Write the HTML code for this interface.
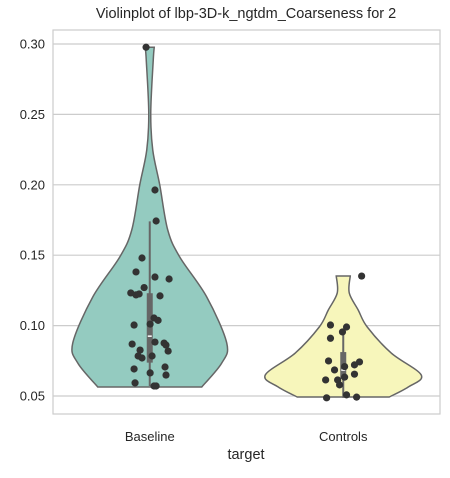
<!DOCTYPE html>
<html><head><meta charset="utf-8"><style>
body{margin:0;background:#fff;}
svg text{font-family:"Liberation Sans",sans-serif;fill:#262626;}
</style></head><body>
<svg id="chart" width="450" height="473" xmlns="http://www.w3.org/2000/svg">
<text x="246" y="18" font-size="14.5" text-anchor="middle">Violinplot of lbp-3D-k_ngtdm_Coarseness for 2</text>
<g id="grid"></g>
<g id="yticks"></g>
<g id="violins"></g>
<g id="points"></g>
<rect x="53" y="30" width="387" height="384" fill="none" stroke="#cccccc" stroke-width="1.2"/>
<g id="xticks"></g>
<text x="246" y="459" font-size="14.5" text-anchor="middle">target</text>
</svg>
<script>
const categories = ["Baseline", "Controls"];
const yTicks = [0.05, 0.10, 0.15, 0.20, 0.25, 0.30];
const yTickLabels = ["0.05", "0.10", "0.15", "0.20", "0.25", "0.30"];
const baselineValues = [0.2977,0.1963,0.1743,0.1480,0.1381,0.1345,0.1331,0.1270,0.1232,0.1218,0.1225,0.1211,0.1054,0.1037,0.1004,0.1011,0.0869,0.0883,0.0876,0.0862,0.0826,0.0819,0.0784,0.0770,0.0784,0.0692,0.0706,0.0664,0.0649,0.0593,0.0571,0.0571];
const baselineJitter = [-0.019,0.027,0.033,-0.040,-0.071,0.027,0.100,-0.029,-0.098,-0.071,-0.055,0.053,0.022,0.043,-0.081,0.002,-0.091,0.027,0.074,0.084,-0.050,0.095,-0.060,-0.040,0.012,-0.081,0.079,0.002,0.084,-0.076,0.022,0.033];
const controlsValues = [0.1352,0.1004,0.0990,0.0955,0.0910,0.0749,0.0742,0.0721,0.0709,0.0685,0.0655,0.0634,0.0614,0.0614,0.0579,0.0508,0.0492,0.0487];
const controlsJitter = [0.095,-0.066,0.017,-0.004,-0.066,-0.076,0.084,0.058,0.007,-0.045,0.058,0.007,-0.091,-0.029,-0.019,0.017,0.069,-0.086];
const baselineDensV = [0.2977,0.2886,0.251,0.2247,0.1999,0.1679,0.1487,0.1203,0.0876,0.0734,0.0564];
const baselineDensW = [4.5,3.5,1,3,10,18,30,57,77,72,52];
const controlsDensV = [0.1352,0.1232,0.111,0.099,0.0805,0.0649,0.0564,0.0493];
const controlsDensW = [7,6,15,24,48,78,65,46];
const baselineBox = [0.0737, 0.0925, 0.1230, 0.1740, 0.0571];
const controlsBox = [0.0620, 0.0684, 0.0812, 0.0960, 0.0487];

const NS = "http://www.w3.org/2000/svg";
const y = v => 396 - (v - 0.05) * 1408;
const x = i => 53 + 387 * (i + 0.5) / categories.length;
const bw = 387 / categories.length;
function mk(tag, attrs, parent){const e=document.createElementNS(NS,tag);for(const k in attrs)e.setAttribute(k,attrs[k]);parent.appendChild(e);return e;}
const grid=document.getElementById('grid'), yt=document.getElementById('yticks');
yTicks.forEach((t,i)=>{
  const l=mk('line',{x1:53,x2:440,y1:y(t),y2:y(t),stroke:'#cccccc','stroke-width':1.2},grid);
  
  
  const tx=mk('text',{x:45,y:y(t)+4.5,'font-size':13,'text-anchor':'end'},yt);
  tx.textContent=yTickLabels[i];
  
  
});
const xt=document.getElementById('xticks');
categories.forEach((c,i)=>{
  const tx=mk('text',{x:x(i),y:441,'font-size':13,'text-anchor':'middle'},xt);
  tx.textContent=c;
  
  
});
const vg=document.getElementById('violins'), pg=document.getElementById('points');
const sets=[[baselineDensV,baselineDensW,baselineBox,'#94cbc0',baselineValues,baselineJitter],[controlsDensV,controlsDensW,controlsBox,'#f7f6bb',controlsValues,controlsJitter]];
function cr(arr){let s='';for(let k=0;k<arr.length-1;k++){const p0=arr[Math.max(k-1,0)],p1=arr[k],p2=arr[k+1],p3=arr[Math.min(k+2,arr.length-1)];s+=` C${p1[0]+(p2[0]-p0[0])/6},${p1[1]+(p2[1]-p0[1])/6} ${p2[0]-(p3[0]-p1[0])/6},${p2[1]-(p3[1]-p1[1])/6} ${p2[0]},${p2[1]}`;}return s;}
sets.forEach((s,i)=>{
  const [dv,dw,box,col,vals,jit]=s, cx=x(i);
  const r=dv.map((v,k)=>[cx+dw[k],y(v)]), l=dv.map((v,k)=>[cx-dw[k],y(v)]).reverse();
  const d='M'+l[l.length-1][0]+','+r[0][1]+' L'+r[0][0]+','+r[0][1]+cr(r)+' L'+l[0][0]+','+l[0][1]+cr(l)+' Z';
  const p=mk('path',{d:d,fill:col,stroke:'#666666','stroke-width':1.5},vg);
  
  
  const w=mk('line',{x1:cx,x2:cx,y1:y(box[3]),y2:y(box[4]),stroke:'#666666','stroke-width':2},vg);
  
  
  const b=mk('rect',{x:cx-3,y:y(box[2]),width:6,height:y(box[0])-y(box[2]),fill:'#666666'},vg);
  
  
  const m=mk('line',{x1:cx-2,x2:cx+2,y1:y(box[1]),y2:y(box[1]),stroke:'#ffffff','stroke-width':1.5},vg);
  
  
  vals.forEach((v,k)=>{
    const c=mk('circle',{cx:cx+jit[k]*bw,cy:y(v),r:3.6,fill:'#333333'},pg);
    
    
  });
});
</script>
</body></html>
